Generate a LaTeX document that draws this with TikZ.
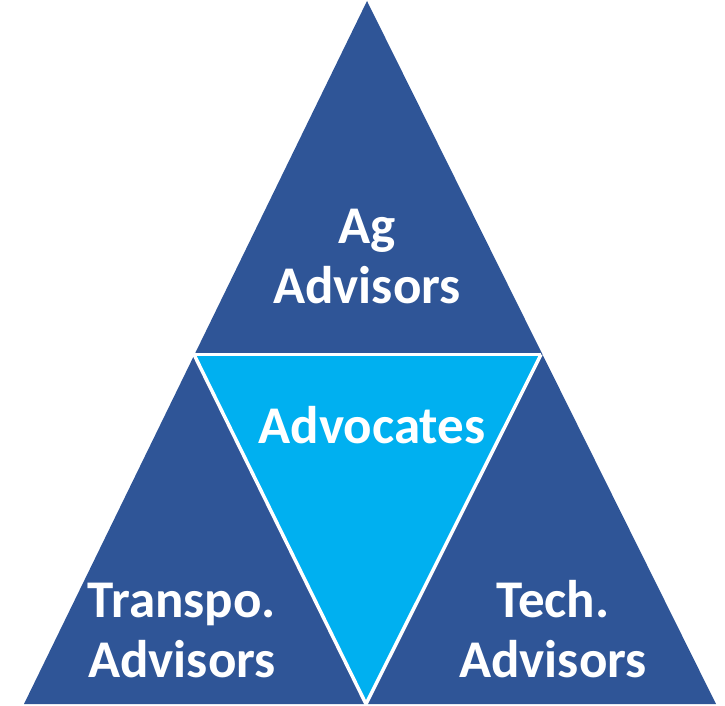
\documentclass[tikz,border=0pt]{standalone}
\usepackage{fontspec}
\setmainfont{Carlito}
\definecolor{darkblue}{HTML}{2F5597}
\definecolor{lightblue}{HTML}{00B0F0}
\tikzset{
    labeltext/.style={text=white, font=\fontsize{53}{60}\selectfont\bfseries, align=center, inner sep=0pt},
    gapline/.style={white, line width=3.5pt, line join=round}
}

\begin{document}
\begin{tikzpicture}[x=1pt, y=-1pt]
    \useasboundingbox (0,0) rectangle (725,706);

    % corners and midpoints of the big triangle
    \coordinate (apex) at (367,1);
    \coordinate (left) at (24,704);
    \coordinate (right) at (716,704);
    \coordinate (midleft) at (194,354.5);
    \coordinate (midright) at (541,354.5);
    \coordinate (midbottom) at (366,704);

    \begin{scope}
        \fill[darkblue] (apex) -- (right) -- (left) -- cycle;
        \fill[lightblue] (midleft) -- (midright) -- (midbottom) -- cycle;
        \draw[gapline] (midleft) -- (midright);
        \draw[gapline] (midleft) -- (midbottom) -- (midright);
    \end{scope}

    \node[labeltext] (ag) at (367,257) {Ag\\Advisors};
    \node[labeltext] (advocates) at (372,425) {Advocates};
    \node[labeltext] (transpo) at (182,631) {Transpo.\\Advisors};
    \node[labeltext] (tech) at (553,629) {Tech.\\Advisors};
\end{tikzpicture}
\end{document}
